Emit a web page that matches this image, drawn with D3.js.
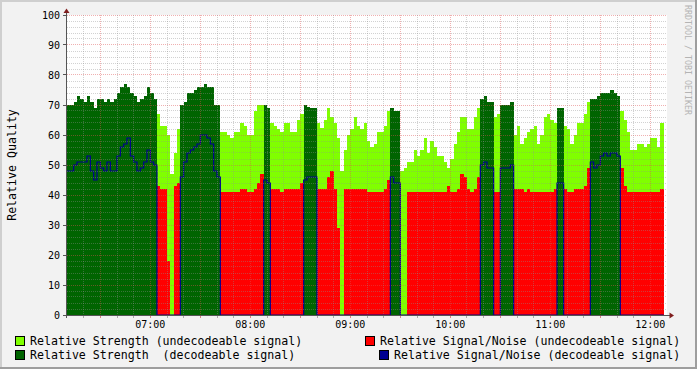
<!DOCTYPE html>
<html>
<head>
<meta charset="utf-8">
<script src="https://cdn.jsdelivr.net/npm/d3@7"></script>
<style>
body { margin: 0; background: #f2f2f2; }
text { font-family: "DejaVu Sans Mono", monospace; }
</style>
</head>
<body>
<div class="svg"></div>
<script>
// samples every 2 minutes starting 06:10
var startTime = new Date(2012, 0, 1, 6, 10);
var stepMinutes = 2;

var strength = [
    70, 70, 71, 73, 72, 71, 73, 71, 69, 72,
    72, 71, 72, 71, 72, 74, 76, 77, 76, 74,
    73, 71, 72, 73, 76, 74, 72, 67, 63, 63,
    60, 47, 54, 62, 70, 71, 74, 74, 75, 76,
    76, 77, 76, 76, 70, 70, 61, 61, 60, 59,
    61, 61, 64, 63, 60, 60, 68, 70, 70, 70,
    69, 64, 63, 62, 61, 64, 64, 61, 61, 65,
    67, 70, 69.5, 69, 69, 64, 62.5, 65, 69, 66,
    64, 59, 48, 55, 60, 62, 66, 63, 62, 64,
    58, 56, 57, 61, 61, 63, 68, 69, 68, 68,
    48, 49, 51, 51, 55, 53, 55, 59, 54, 58,
    56, 53, 53, 51, 49, 52, 57, 61, 66, 66,
    62, 62, 66, 69, 72, 73, 71, 71, 66, 67,
    70, 70, 70, 71, 60, 63, 57, 59, 61, 62,
    63, 57, 60, 66, 67, 65, 64, 69, 69, 63,
    62, 57, 60, 64, 64, 67, 71, 72, 72, 73,
    74, 74, 74, 75, 74, 73, 68, 65, 61, 55,
    55, 57, 57, 56, 57, 59, 59, 56, 64
];

var signalNoise = [
    48, 48, 50, 51, 51, 51, 53, 48, 45, 51,
    49, 48, 51, 48, 48, 53, 56, 57, 59, 53,
    51, 48, 49, 51, 55, 51, 50, 43, 42, 42,
    18, 0, 43, 44, 46, 51, 54, 55, 56, 57,
    60, 60, 59, 57, 48, 46, 41, 41, 41, 41,
    41, 41, 42, 42, 41, 41, 42, 44, 47, 45,
    44, 42, 42, 42, 41, 42, 42, 42, 42, 42,
    44, 45, 46, 46, 46, 42, 42, 42, 46, 48,
    42, 29, 0, 42, 42, 42, 42, 42, 42, 42,
    41, 41, 41, 41, 41, 42, 45, 46, 44, 44,
    0, 0, 41, 41, 41, 41, 41, 41, 41, 41,
    41, 41, 41, 41, 43, 41, 41, 42, 47, 46,
    42, 41, 42, 46, 50, 51, 49, 49, 41, 41,
    49, 49, 49, 50, 42, 42, 42, 41, 42, 41,
    41, 41, 41, 41, 41, 41, 42, 44, 44, 42,
    41, 41, 42, 42, 42, 43, 49, 51, 49, 50,
    53, 54, 53, 54, 54, 53, 49, 43, 41, 41,
    41, 41, 41, 41, 41, 41, 41, 41, 42
];

// 1 = signal could be decoded
var decoded = [
    1, 1, 1, 1, 1, 1, 1, 1, 1, 1,
    1, 1, 1, 1, 1, 1, 1, 1, 1, 1,
    1, 1, 1, 1, 1, 1, 1, 0, 0, 0,
    0, 0, 0, 0, 1, 1, 1, 1, 1, 1,
    1, 1, 1, 1, 1, 1, 0, 0, 0, 0,
    0, 0, 0, 0, 0, 0, 0, 0, 0, 1,
    1, 0, 0, 0, 0, 0, 0, 0, 0, 0,
    0, 1, 1, 1, 1, 0, 0, 0, 0, 0,
    0, 0, 0, 0, 0, 0, 0, 0, 0, 0,
    0, 0, 0, 0, 0, 0, 0, 1, 1, 1,
    0, 0, 0, 0, 0, 0, 0, 0, 0, 0,
    0, 0, 0, 0, 0, 0, 0, 0, 0, 0,
    0, 0, 0, 0, 1, 1, 1, 1, 0, 0,
    1, 1, 1, 1, 0, 0, 0, 0, 0, 0,
    0, 0, 0, 0, 0, 0, 0, 1, 1, 0,
    0, 0, 0, 0, 0, 0, 0, 1, 1, 1,
    1, 1, 1, 1, 1, 1, 0, 0, 0, 0,
    0, 0, 0, 0, 0, 0, 0, 0, 0
];

var yTicks = [0, 10, 20, 30, 40, 50, 60, 70, 80, 90, 100];
var legendLabels = [
    "Relative Strength (undecodeable signal)",
    "Relative Strength  (decodeable signal)",
    "Relative Signal/Noise (undecodeable signal)",
    "Relative Signal/Noise (decodeable signal)"
];
var legendColors = ["#80ff00", "#006400", "#ff0000", "#000090"];

var width = 697, height = 369;
var svg = d3.select(".svg").append("svg").attr("width", width).attr("height", height);

// background and 3d frame
svg.append("rect").attr("width", width).attr("height", height).attr("fill", "#f2f2f2");
svg.append("rect").attr("x", 0).attr("y", 0).attr("width", width).attr("height", 2).attr("fill", "#cfcfcf");
svg.append("rect").attr("x", 0).attr("y", 0).attr("width", 2).attr("height", height).attr("fill", "#cfcfcf");
svg.append("rect").attr("x", 0).attr("y", height - 2).attr("width", width).attr("height", 2).attr("fill", "#9e9e9e");
svg.append("rect").attr("x", width - 2).attr("y", 0).attr("width", 2).attr("height", height).attr("fill", "#9e9e9e");

var x = d3.scaleTime().domain([startTime, d3.timeMinute.offset(startTime, 360)]).range([67, 667]);
var y = d3.scaleLinear().domain([0, 100]).range([315, 15]);

svg.append("rect").attr("x", 67).attr("y", 15).attr("width", 600).attr("height", 300).attr("fill", "#ffffff");

var samples = strength.map(function (v, i) {
    return { t: d3.timeMinute.offset(startTime, i * stepMinutes), strength: v, sn: signalNoise[i], dec: decoded[i] };
});
// closing point so the last step has a width
var last = samples[samples.length - 1];
samples.push({ t: d3.timeMinute.offset(startTime, samples.length * stepMinutes), strength: last.strength, sn: last.sn, dec: last.dec });

function stepArea(fn) {
    return d3.area().curve(d3.curveStepAfter).x(function (d) { return x(d.t); }).y0(y(0)).y1(function (d) { return y(fn(d)); });
}

var g = svg.append("g").attr("shape-rendering", "crispEdges");
g.append("path").datum(samples).attr("fill", legendColors[0]).attr("d", stepArea(function (d) { return d.dec ? 0 : d.strength; }));
g.append("path").datum(samples).attr("fill", legendColors[1]).attr("d", stepArea(function (d) { return d.dec ? d.strength : 0; }));
g.append("path").datum(samples).attr("fill", legendColors[2]).attr("d", stepArea(function (d) { return d.dec ? 0 : d.sn; }));

var snLine = d3.line().curve(d3.curveStepAfter).x(function (d) { return x(d.t); }).y(function (d) { return y(d.dec ? d.sn : 0); });
svg.append("path").datum(samples).attr("fill", "none").attr("stroke", legendColors[3]).attr("stroke-width", 1.2).attr("d", snLine);

// grid on top of the graph, like rrdtool
var grid = svg.append("g").attr("shape-rendering", "crispEdges").attr("stroke-dasharray", "1,1").attr("fill", "none");
d3.range(2, 101, 2).forEach(function (v) {
    var major = v % 10 === 0;
    var py = Math.floor(y(v)) + 0.5;
    grid.append("line").attr("x1", 67).attr("x2", 667).attr("y1", py).attr("y2", py)
        .attr("stroke", major ? "rgba(222,79,79,0.45)" : "rgba(143,143,143,0.4)");
});
x.ticks(d3.timeMinute.every(10)).forEach(function (t) {
    var px = Math.floor(x(t)) + 0.5;
    if (px <= 68 || px >= 666) return;
    var major = t.getMinutes() % 30 === 0;
    grid.append("line").attr("x1", px).attr("x2", px).attr("y1", 15).attr("y2", 315)
        .attr("stroke", major ? "rgba(222,79,79,0.45)" : "rgba(143,143,143,0.4)");
    svg.append("line").attr("x1", px).attr("x2", px).attr("y1", 316).attr("y2", 318)
        .attr("stroke", major ? "#de8080" : "#aaaaaa").attr("shape-rendering", "crispEdges");
});

// axes
svg.append("line").attr("x1", 66.5).attr("x2", 66.5).attr("y1", 318).attr("y2", 12).attr("stroke", "#555").attr("shape-rendering", "crispEdges");
svg.append("line").attr("x1", 64).attr("x2", 671).attr("y1", 315.5).attr("y2", 315.5).attr("stroke", "#555").attr("shape-rendering", "crispEdges");
svg.append("path").attr("d", "M66.5,8.5L69.5,13L63.5,13Z").attr("fill", "#801f1f");
svg.append("path").attr("d", "M674,315.5L669.5,312.5L669.5,318.5Z").attr("fill", "#801f1f");

yTicks.forEach(function (v) {
    var py = Math.floor(y(v)) + 0.5;
    svg.append("line").attr("x1", 63).attr("x2", 66).attr("y1", py).attr("y2", py).attr("stroke", "#555").attr("shape-rendering", "crispEdges");
    svg.append("text").attr("x", 60).attr("y", y(v) + 3.6).attr("text-anchor", "end").attr("font-size", "10px").attr("fill", "#000").text(v);
});

var timeFormat = d3.timeFormat("%H:%M");
x.ticks(d3.timeHour.every(1)).forEach(function (t) {
    svg.append("text").attr("x", x(t)).attr("y", 327.5).attr("text-anchor", "middle").attr("font-size", "10px").attr("fill", "#000").text(timeFormat(t));
});

svg.append("text").attr("transform", "translate(15.5,165) rotate(-90)").attr("text-anchor", "middle")
    .attr("font-size", "11.6px").attr("fill", "#000").text("Relative Quality");

svg.append("text").attr("transform", "translate(685,5) rotate(90)").attr("font-size", "8.3px").attr("fill", "#b4b4b4")
    .text("RRDTOOL / TOBI OETIKER");

// legend: left column left aligned, right column right aligned
var legendPos = [[15, 336, 30], [15, 350, 30], [365, 336, 380], [379, 350, 394]];
legendLabels.forEach(function (label, i) {
    var p = legendPos[i];
    svg.append("rect").attr("x", p[0] + 0.5).attr("y", p[1] + 0.5).attr("width", 9).attr("height", 9)
        .attr("fill", legendColors[i]).attr("stroke", "#000").attr("shape-rendering", "crispEdges");
    svg.append("text").attr("x", p[2]).attr("y", p[1] + 9).attr("font-size", "11.6px").attr("fill", "#000")
        .attr("xml:space", "preserve").style("white-space", "pre").text(label);
});
</script>
</body>
</html>
